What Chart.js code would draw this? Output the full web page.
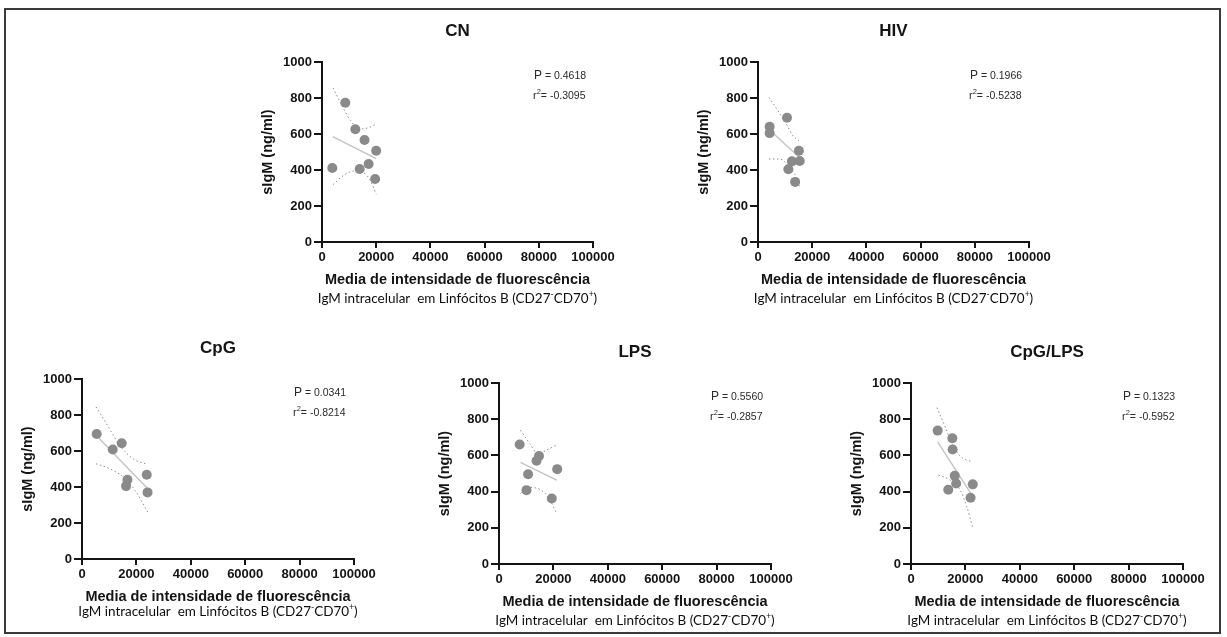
<!DOCTYPE html>
<html>
<head>
<meta charset="utf-8">
<script src="https://cdn.jsdelivr.net/npm/chart.js@4.4.1/dist/chart.umd.min.js"></script>
<style>
  html, body { margin: 0; padding: 0; background: #fff; overflow: hidden; }
  body { width: 1227px; height: 637px; position: relative; }
  #frame { position: absolute; left: 4px; top: 8px; width: 1213px; height: 622px; border: 2px solid #3a3a3a; }
  canvas { position: absolute; }
</style>
</head>
<body>
<div id="frame"></div>
<canvas id="c0"></canvas>
<canvas id="c1"></canvas>
<canvas id="c2"></canvas>
<canvas id="c3"></canvas>
<canvas id="c4"></canvas>
<script>
// ---- data ----
const panelTitles = ['CN', 'HIV', 'CpG', 'LPS', 'CpG/LPS'];
const pValues = ['0.4618', '0.1966', '0.0341', '0.5560', '0.1323'];
const rValues = ['-0.3095', '-0.5238', '-0.8214', '-0.2857', '-0.5952'];
const xTickLabels = ['0', '20000', '40000', '60000', '80000', '100000'];
const yTickLabels = ['0', '200', '400', '600', '800', '1000'];
const xAxisTitle = 'Media de intensidade de fluorescência';
const yAxisTitle = 'sIgM (ng/ml)';

// CN
const cnMFI = [3800, 8600, 12300, 13900, 15700, 17200, 20000, 19600];
const cnIgM = [411, 774, 626, 406, 567, 433, 507, 350];
const cnFitMFI = [4000, 20000];
const cnFitIgM = [585, 463];
const cnUpperMFI = [4050, 7360, 10430, 14110, 17180, 20000];
const cnUpperIgM = [856, 759, 676, 628, 635, 654];
const cnLowerMFI = [4050, 7980, 11660, 14720, 17790, 20000];
const cnLowerIgM = [319, 370, 394, 389, 343, 265];

// HIV
const hivMFI = [4300, 4300, 10700, 11200, 12500, 13700, 15100, 15400];
const hivIgM = [640, 605, 690, 404, 448, 334, 507, 450];
const hivFitMFI = [4300, 15400];
const hivFitIgM = [622, 468];
const hivUpperMFI = [4060, 7380, 10460, 12920, 15130];
const hivUpperIgM = [803, 729, 655, 590, 563];
const hivLowerMFI = [4060, 7990, 10700, 13530, 15380];
const hivLowerIgM = [461, 461, 434, 378, 304];

// CpG
const cpgMFI = [5400, 11300, 14600, 16700, 16200, 23800, 24100];
const cpgIgM = [694, 608, 643, 440, 405, 468, 370];
const cpgFitMFI = [5600, 24100];
const cpgFitIgM = [680, 392];
const cpgUpperMFI = [5150, 9070, 13970, 18870, 24140];
const cpgUpperIgM = [845, 750, 630, 556, 525];
const cpgLowerMFI = [5150, 10290, 15200, 19490, 24140];
const cpgLowerIgM = [529, 501, 455, 381, 261];

// LPS
const lpsMFI = [7600, 10700, 10100, 13800, 14700, 19400, 21400];
const lpsIgM = [660, 496, 408, 570, 597, 362, 524];
const lpsFitMFI = [7900, 21200];
const lpsFitIgM = [561, 463];
const lpsUpperMFI = [7870, 11300, 14380, 17460, 21510];
const lpsUpperIgM = [739, 666, 607, 629, 660];
const lpsLowerMFI = [7870, 11300, 15000, 18050, 21150];
const lpsLowerIgM = [390, 423, 412, 371, 280];

// CpG/LPS
const mixMFI = [9800, 15200, 15300, 16100, 16600, 13700, 22700, 21900];
const mixIgM = [737, 695, 633, 487, 445, 410, 440, 366];
const mixFitMFI = [9800, 22400];
const mixFitIgM = [675, 381];
const mixUpperMFI = [9540, 12580, 15040, 18090, 22380];
const mixUpperIgM = [864, 757, 666, 596, 564];
const mixLowerMFI = [10120, 14420, 18090, 20540, 22740];
const mixLowerIgM = [491, 463, 408, 316, 197];

// ---- layout ----
const boxes = [
  { left: 322, top: 62,  w: 271, h: 180, subDy: 57 },
  { left: 758, top: 62,  w: 271, h: 180, subDy: 57 },
  { left: 82,  top: 379, w: 272, h: 180, subDy: 53 },
  { left: 499, top: 383, w: 272, h: 181, subDy: 57 },
  { left: 911, top: 383, w: 272, h: 181, subDy: 57 }
];
const M = { l: 80, t: 50, r: 40, b: 80 };
const Y_AXIS_W = 45, X_AXIS_H = 30;
const SANS = '"Liberation Sans", Arial, sans-serif';
const INK = '#141414';

const pts = (xs, ys) => xs.map((x, i) => ({ x, y: ys[i] }));

const panelData = [
  [cnMFI, cnIgM, cnFitMFI, cnFitIgM, cnUpperMFI, cnUpperIgM, cnLowerMFI, cnLowerIgM],
  [hivMFI, hivIgM, hivFitMFI, hivFitIgM, hivUpperMFI, hivUpperIgM, hivLowerMFI, hivLowerIgM],
  [cpgMFI, cpgIgM, cpgFitMFI, cpgFitIgM, cpgUpperMFI, cpgUpperIgM, cpgLowerMFI, cpgLowerIgM],
  [lpsMFI, lpsIgM, lpsFitMFI, lpsFitIgM, lpsUpperMFI, lpsUpperIgM, lpsLowerMFI, lpsLowerIgM],
  [mixMFI, mixIgM, mixFitMFI, mixFitIgM, mixUpperMFI, mixUpperIgM, mixLowerMFI, mixLowerIgM]
];

// draws a row of text pieces, some raised as superscripts
function drawRuns(ctx, runs, x, y, align) {
  let total = 0;
  runs.forEach(r => { ctx.font = r.font; r.w = ctx.measureText(r.t).width; total += r.w; });
  let cx = align === 'center' ? x - total / 2 : x;
  runs.forEach(r => {
    ctx.font = r.font;
    ctx.fillText(r.t, cx, y + (r.dy || 0));
    cx += r.w;
  });
  return { left: align === 'center' ? x - total / 2 : x, width: total };
}

const panelText = {
  id: 'panelText',
  afterDraw(chart, args, opts) {
    const ctx = chart.ctx;
    const ca = chart.chartArea;
    const cx = (ca.left + ca.right) / 2;
    ctx.save();
    ctx.fillStyle = INK;
    ctx.textBaseline = 'middle';
    ctx.textAlign = 'center';

    // panel title
    ctx.font = 'bold 17px ' + SANS;
    ctx.fillText(opts.title, cx, ca.top - 31);

    // y axis title
    ctx.save();
    ctx.translate(ca.left - 54, (ca.top + ca.bottom) / 2);
    ctx.rotate(-Math.PI / 2);
    ctx.font = 'bold 14.5px ' + SANS;
    ctx.fillText(yAxisTitle, 0, 0);
    ctx.restore();

    // x axis title
    ctx.font = 'bold 14.5px ' + SANS;
    ctx.fillText(xAxisTitle, cx, ca.bottom + 38);

    // second caption line on a white strip
    ctx.textAlign = 'left';
    const subY = ca.bottom + opts.subDy;
    const f = '13.5px Lato, "Open Sans", sans-serif';
    const fs = '8.5px Lato, "Open Sans", sans-serif';
    const runs = [
      { t: 'IgM intracelular  em Linfócitos B (CD27', font: f },
      { t: '-', font: fs, dy: -5 },
      { t: 'CD70', font: f },
      { t: '+', font: fs, dy: -5 },
      { t: ')', font: f }
    ];
    let tw = 0;
    runs.forEach(r => { ctx.font = r.font; tw += ctx.measureText(r.t).width; });
    ctx.fillStyle = '#fff';
    ctx.fillRect(cx - tw / 2 - 8, subY - 11, tw + 16, 21);
    ctx.fillStyle = '#0e0e0e';
    drawRuns(ctx, runs, cx, subY, 'center');

    // statistics
    ctx.fillStyle = '#2a2a2a';
    const ax = ca.left + 212;
    drawRuns(ctx, [
      { t: 'P', font: '12px ' + SANS },
      { t: ' = ' + opts.p, font: '10.5px ' + SANS, dy: 0.5 }
    ], ax, ca.top + 14, 'left');
    drawRuns(ctx, [
      { t: 'r', font: '11px ' + SANS },
      { t: '2', font: '7.5px ' + SANS, dy: -4 },
      { t: '= ' + opts.r, font: '10.5px ' + SANS, dy: 0.5 }
    ], ax - 1, ca.top + 34, 'left');
    ctx.restore();
  }
};

boxes.forEach((b, i) => {
  const cv = document.getElementById('c' + i);
  const W = b.w + M.l + M.r, H = b.h + M.t + M.b;
  cv.width = W; cv.height = H;
  cv.style.left = (b.left - M.l) + 'px';
  cv.style.top = (b.top - M.t) + 'px';
  cv.style.width = W + 'px'; cv.style.height = H + 'px';

  const [xs, ys, fx, fy, ux, uy, lx, ly] = panelData[i];
  const band = {
    type: 'line', borderColor: '#8e8e8e', borderWidth: 1, borderDash: [1.5, 2.5],
    pointRadius: 0, cubicInterpolationMode: 'monotone', fill: false
  };

  new Chart(cv, {
    type: 'scatter',
    data: {
      datasets: [
        { type: 'scatter', data: pts(xs, ys), pointRadius: 5, backgroundColor: '#8a8a8a', borderWidth: 0 },
        { type: 'line', data: pts(fx, fy), borderColor: '#c3c3c3', borderWidth: 1.4, pointRadius: 0 },
        Object.assign({ data: pts(ux, uy) }, band),
        Object.assign({ data: pts(lx, ly) }, band)
      ]
    },
    options: {
      responsive: false,
      animation: false,
      events: [],
      layout: { padding: { left: M.l - Y_AXIS_W, top: M.t, right: M.r, bottom: M.b - X_AXIS_H } },
      plugins: {
        legend: { display: false },
        tooltip: { enabled: false },
        panelText: { title: panelTitles[i], p: pValues[i], r: rValues[i], subDy: b.subDy }
      },
      scales: {
        x: {
          type: 'linear', min: 0, max: 100000,
          afterFit: s => { s.height = X_AXIS_H; },
          ticks: {
            stepSize: 20000, autoSkip: false, maxRotation: 0, padding: 2, color: INK,
            font: { family: SANS, size: 13, weight: 'bold' },
            callback: (v, idx) => xTickLabels[idx]
          },
          grid: { display: true, drawOnChartArea: false, drawTicks: true, tickLength: 6, color: INK, lineWidth: 2 },
          border: { display: true, color: INK, width: 2 }
        },
        y: {
          type: 'linear', min: 0, max: 1000,
          afterFit: s => { s.width = Y_AXIS_W; },
          ticks: {
            stepSize: 200, autoSkip: false, padding: 2, color: INK,
            font: { family: SANS, size: 13, weight: 'bold' },
            callback: (v, idx) => yTickLabels[idx]
          },
          grid: { display: true, drawOnChartArea: false, drawTicks: true, tickLength: 8, color: INK, lineWidth: 2 },
          border: { display: true, color: INK, width: 2 }
        }
      }
    },
    plugins: [panelText]
  });
});
</script>
</body>
</html>
